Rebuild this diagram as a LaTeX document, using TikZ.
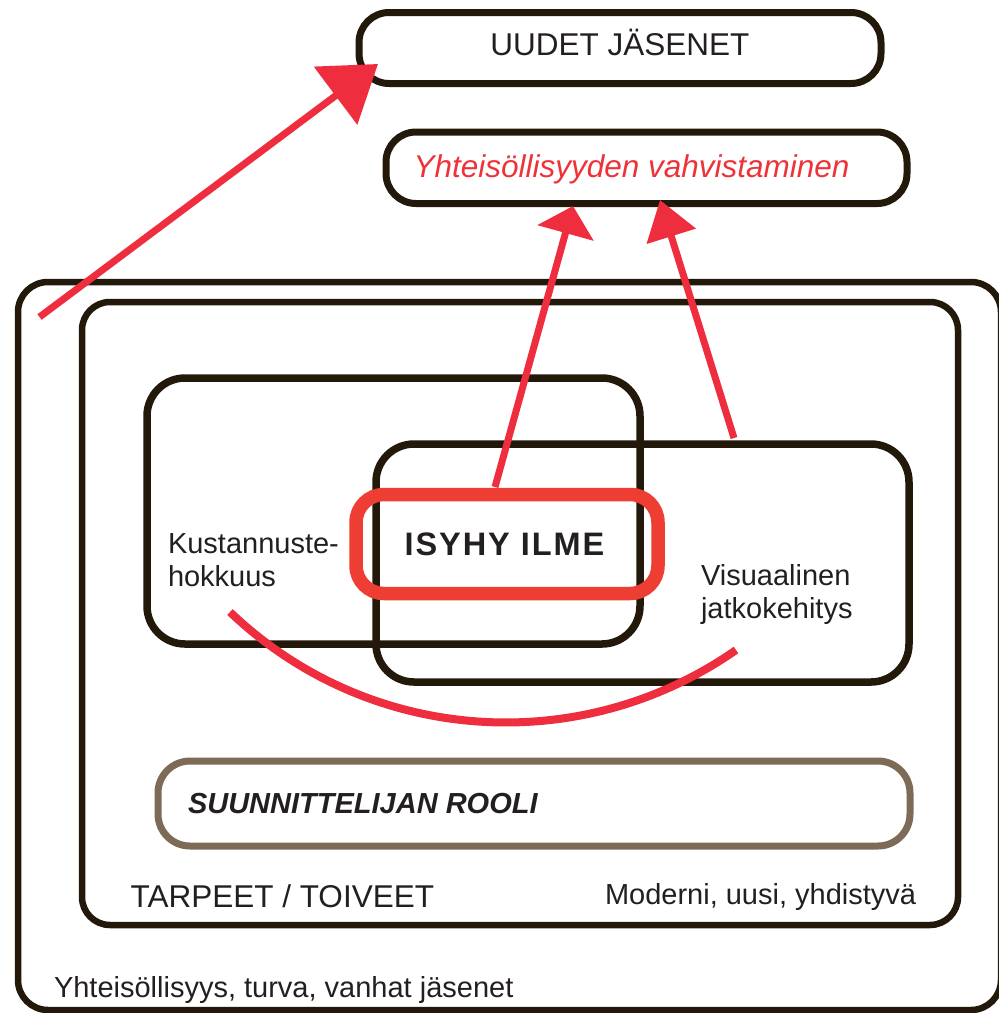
\documentclass[tikz,border=0pt]{standalone}
\usepackage{fontspec}
\setmainfont{Liberation Sans}
\usetikzlibrary{arrows.meta}
\definecolor{boxc}{RGB}{35,25,10}
\definecolor{arr}{RGB}{238,45,62}
\definecolor{redbox}{RGB}{238,62,52}
\definecolor{txt}{RGB}{35,31,32}
\definecolor{brownc}{RGB}{125,107,88}
\definecolor{redtxt}{RGB}{238,50,56}
\newcommand\fsz[2]{\fontsize{#1pt}{#2pt}\selectfont}
\begin{document}
\begin{tikzpicture}[x=1pt,y=-1pt,
  box/.style={draw=boxc, line width=6.5pt, inner sep=0pt, outer sep=0pt, rectangle},
  lbl/.style={text=txt, inner sep=0pt, outer sep=0pt},
  redarrow/.style={draw=arr, line width=7pt, line cap=butt},
]
\useasboundingbox (0,0) rectangle (999,1013);

% containers
\node[box, rounded corners=30pt, minimum width=983pt, minimum height=728pt] (outer) at (509.5,646) {};
\node[box, rounded corners=28pt, minimum width=876pt, minimum height=623pt] (inner) at (520,613.5) {};
\node[box, line width=7.5pt, rounded corners=38pt, minimum width=493pt, minimum height=266pt] (kustbox) at (393.5,511) {};
\node[box, line width=7.5pt, rounded corners=38pt, minimum width=533pt, minimum height=238pt] (visubox) at (642.5,563) {};
\node[box, draw=redbox, line width=13.5pt, rounded corners=28pt, minimum width=302pt, minimum height=99pt] (isybox) at (507,544) {};
\node[box, draw=brownc, line width=7pt, rounded corners=32pt, minimum width=752pt, minimum height=85pt] (suunbox) at (534,803.5) {};
\node[box, line width=7pt, rounded corners=30pt, minimum width=522pt, minimum height=71pt] (uudetbox) at (620,48) {};
\node[box, line width=7pt, rounded corners=30pt, minimum width=521pt, minimum height=71.5pt] (yhtbox) at (646.5,167.75) {};

% texts
\node[lbl, anchor=base] (uudet) at (620,55) {\fsz{31.5}{36}UUDET JÄSENET};
\node[lbl, anchor=base, text=redtxt] (yht) at (631.5,177) {\fsz{31.5}{36}\itshape Yhteisöllisyyden vahvistaminen};
\node[lbl, anchor=base] (isy) at (504.5,555) {\fsz{32.5}{36}\bfseries\addfontfeature{LetterSpace=6}ISYHY ILME};
\node[lbl, anchor=west, align=left, font=\fsz{29}{33.5}] (kust) at (168,560) {Kustannuste-\\hokkuus};
\node[lbl, anchor=west, align=left, font=\fsz{29}{33.5}] (visu) at (701,594.5) {Visuaalinen\\jatkokehitys};
\node[lbl, anchor=base west] (suun) at (188,813) {\fsz{29}{34}\bfseries\itshape SUUNNITTELIJAN ROOLI};
\node[lbl, anchor=base west] (tarp) at (130.6,907) {\fsz{31.5}{36}TARPEET / TOIVEET};
\node[lbl, anchor=base west] (mod) at (605,904) {\fsz{29}{34}Moderni, uusi, yhdistyvä};
\node[lbl, anchor=base west] (vanh) at (54,997) {\fsz{29}{34}Yhteisöllisyys, turva, vanhat jäsenet};

% connector end points
\coordinate (a1s) at (39.5,317);
\coordinate (a1e) at (378,64);
\coordinate (a2s) at (495,487);
\coordinate (a2e) at (573,206);
\coordinate (a3s) at (734,438);
\coordinate (a3e) at (660,200);
\coordinate (cs) at (230,612);
\coordinate (ce) at (736,650);

% red connectors
\draw[redarrow, -{Triangle[length=53pt,width=71pt]}] (a1s) -- (a1e);
\draw[redarrow, -{Triangle[length=28pt,width=57pt]}] (a2s) -- (a2e);
\draw[redarrow, -{Triangle[length=38pt,width=50pt]}] (a3s) -- (a3e);
\draw[draw=arr, line width=8pt] (cs) .. controls (368,744) and (580,759) .. (ce);
\end{tikzpicture}
\end{document}
